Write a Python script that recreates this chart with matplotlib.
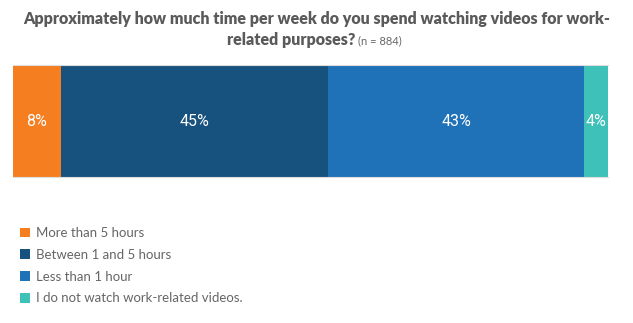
import numpy as np
import matplotlib
matplotlib.use("Agg")
import matplotlib.pyplot as plt
from matplotlib.patches import Patch

# survey answers, share of respondents in percent
categories = ["More than 5 hours", "Between 1 and 5 hours", "Less than 1 hour",
              "I do not watch work-related videos."]
shares = [8, 45, 43, 4]
colors = ["#F47E20", "#17527E", "#1F72B8", "#3EC1B8"]

plt.rcParams["font.family"] = ["Lato", "DejaVu Sans"]

W, H = 633, 323
fig = plt.figure(figsize=(W / 100, H / 100), dpi=100)
ax = fig.add_axes([13 / W, 1 - 177 / H, 595 / W, 112 / H])

lefts = np.concatenate([[0], np.cumsum(shares)[:-1]])
for left, val, col in zip(lefts, shares, colors):
    ax.barh(0, val, left=left, height=1, color=col, edgecolor="none")
    ax.text(left + val / 2, 0, f"{val}%", ha="center", va="center",
            color="white", fontsize=11.5, family=["Roboto", "DejaVu Sans"])

ax.set_xlim(0, sum(shares))
ax.set_ylim(-0.5, 0.5)
ax.set_xticks([])
ax.set_yticks([])
for side in ["left", "right"]:
    ax.spines[side].set_visible(False)
for side in ["top", "bottom"]:
    ax.spines[side].set_color("#dddddd")
    ax.spines[side].set_linewidth(0.8)

# title, two lines, sample size in lighter type
fig.text(0.5, 1 - 19 / H, "Approximately how much time per week do you spend watching videos for work-",
         ha="center", va="center", fontsize=11.5, fontweight="heavy", color="#5a5a5a")
fig.text(355 / W, 1 - 40 / H, "related purposes?", ha="right", va="center",
         fontsize=11.5, fontweight="heavy", color="#5a5a5a")
fig.text(358 / W, 1 - 41 / H, "(n = 884)", ha="left", va="center", fontsize=8, color="#666666")

handles = [Patch(facecolor=c, edgecolor="none") for c in colors]
fig.legend(handles, categories, loc="upper left", bbox_to_anchor=(20 / W, 1 - 227 / H),
           frameon=False, fontsize=9.5, labelcolor="#666666", handlelength=0.75, handleheight=0.75,
           handletextpad=0.45, labelspacing=0.74, borderaxespad=0, borderpad=0)

fig.savefig("out.png", dpi=100)
